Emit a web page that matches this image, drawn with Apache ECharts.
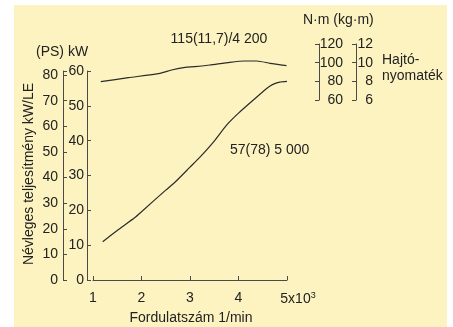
<!DOCTYPE html>
<html>
<head>
<meta charset="utf-8">
<script src="https://cdn.jsdelivr.net/npm/echarts@6/dist/echarts.min.js"></script>
<style>
html, body { margin: 0; padding: 0; background: #fff; }
#chart { width: 453px; height: 327px; }
</style>
</head>
<body>
<div id="chart"></div>
<script>
// engine speed in 1000 1/min
const rpmTicks = [1, 2, 3, 4, 5];
const kwTicks = [0, 10, 20, 30, 40, 50, 60];
const psTicks = [0, 10, 20, 30, 40, 50, 60, 70, 80];
const nmTicks = [60, 80, 100, 120];
const kgmTicks = [6, 8, 10, 12];

const powerRpm = [1.2, 1.5, 1.87, 2.0, 2.5, 2.7, 3.0, 3.2, 3.5, 3.75, 4.0, 4.3, 4.58, 4.7, 4.85, 5.0];
const powerKw = [11, 14.2, 18, 19.6, 25.8, 28.2, 32.4, 35.2, 39.9, 44.4, 47.9, 51.6, 55, 56.1, 56.8, 57];

const torqueRpm = [1.16, 1.73, 2.38, 2.62, 2.9, 3.1, 3.41, 3.82, 4.13, 4.38, 4.65, 4.99];
const torqueNm = [79.6, 83.9, 88.6, 92.1, 95, 95.7, 97.5, 100.4, 101.8, 101.8, 99.3, 96.8];

const KW_PER_PS = 0.7355;
const psMax = kwTicks[kwTicks.length - 1] / KW_PER_PS;

const font = "'Liberation Sans', Arial, sans-serif";
const ink = "#222";
const axisInk = "#4a4a4a";
const lab = { color: ink, fontSize: 14, fontFamily: font };

const zip = (xs, ys) => xs.map((x, i) => [x, ys[i]]);

function yAxisBase(extra) {
  return Object.assign({
    type: "value",
    splitLine: { show: false },
    axisLine: { show: true, lineStyle: { color: axisInk, width: 1 } },
    axisTick: { show: true, inside: true, length: 4, lineStyle: { color: axisInk } },
  }, extra);
}

const chart = echarts.init(document.getElementById("chart"));
chart.setOption({
  animation: false,
  textStyle: { fontFamily: font },
  grid: [
    { left: 93, top: 71, width: 194, height: 209 },
    { left: 93, top: 44, width: 194, height: 56 },
  ],
  xAxis: [
    {
      type: "value", gridIndex: 0, min: 1, max: 5, interval: 1, offset: 4,
      splitLine: { show: false },
      axisLine: { show: true, lineStyle: { color: axisInk, width: 1 } },
      axisTick: { show: true, inside: true, length: 4, lineStyle: { color: axisInk } },
      axisLabel: Object.assign({}, lab, {
        margin: 7,
        formatter: (v) => (v === rpmTicks[rpmTicks.length - 1] ? "{m|" + v + "x10}{s|3}" : String(v)),
        rich: {
          m: { fontSize: 14, color: ink, fontFamily: font, padding: [0, 0, 0, 22] },
          s: { fontSize: 9, color: ink, fontFamily: font, padding: [0, 0, 8, 0] },
        },
      }),
    },
    { type: "value", gridIndex: 1, min: 1, max: 5, show: false },
  ],
  yAxis: [
    yAxisBase({
      gridIndex: 0, position: "left", offset: 6, min: 0, max: 60, interval: 10,
      axisLabel: Object.assign({}, lab, { margin: 3 }),
    }),
    yAxisBase({
      gridIndex: 0, position: "left", offset: 30, min: 0, max: psMax,
      axisTick: { show: true, inside: true, length: 4, lineStyle: { color: axisInk }, customValues: psTicks.concat([psMax]) },
      axisLabel: Object.assign({}, lab, { margin: 5, customValues: psTicks }),
    }),
    yAxisBase({
      gridIndex: 1, position: "right", offset: 32, min: 60, max: 120, interval: 20,
      axisLabel: Object.assign({}, lab, { margin: 24, align: "right" }),
    }),
    yAxisBase({
      gridIndex: 1, position: "right", offset: 69, min: 6, max: 12, interval: 2,
      axisLabel: Object.assign({}, lab, { margin: 17, align: "right" }),
    }),
  ],
  graphic: [
    { type: "rect", z: -10, silent: true, shape: { x: 14, y: 5, width: 433, height: 322 }, style: { fill: "#fdf3c0" } },
    { type: "text", x: 50, y: 52, style: Object.assign({ text: "(PS)", align: "center", verticalAlign: "middle", fill: ink, font: "14px " + font }) },
    { type: "text", x: 78, y: 52, style: { text: "kW", align: "center", verticalAlign: "middle", fill: ink, font: "14px " + font } },
    { type: "text", x: 29, y: 174, rotation: Math.PI / 2, style: { text: "Névleges teljesítmény kW/LE", align: "center", verticalAlign: "middle", fill: ink, font: "14px " + font } },
    { type: "text", x: 191, y: 318, style: { text: "Fordulatszám 1/min", align: "center", verticalAlign: "middle", fill: ink, font: "14px " + font } },
    { type: "text", x: 303, y: 20, style: { text: "N·m (kg·m)", align: "left", verticalAlign: "middle", fill: ink, font: "14px " + font } },
    { type: "text", x: 382, y: 60, style: { text: "Hajtó-", align: "left", verticalAlign: "middle", fill: ink, font: "14px " + font } },
    { type: "text", x: 382, y: 76, style: { text: "nyomaték", align: "left", verticalAlign: "middle", fill: ink, font: "14px " + font } },
    { type: "text", x: 219, y: 39, style: { text: "115(11,7)/4 200", align: "center", verticalAlign: "middle", fill: ink, font: "14px " + font } },
    { type: "text", x: 230, y: 150, style: { text: "57(78) 5 000", align: "left", verticalAlign: "middle", fill: ink, font: "14px " + font } },
  ],
  series: [
    {
      name: "kW", type: "line", xAxisIndex: 0, yAxisIndex: 0,
      data: zip(powerRpm, powerKw), smooth: 0.2, symbol: "none",
      lineStyle: { color: "#2b2b2b", width: 1.2 },
    },
    {
      name: "N·m", type: "line", xAxisIndex: 1, yAxisIndex: 2,
      data: zip(torqueRpm, torqueNm), smooth: 0.2, symbol: "none",
      lineStyle: { color: "#2b2b2b", width: 1.2 },
    },
  ],
});
</script>
</body>
</html>
